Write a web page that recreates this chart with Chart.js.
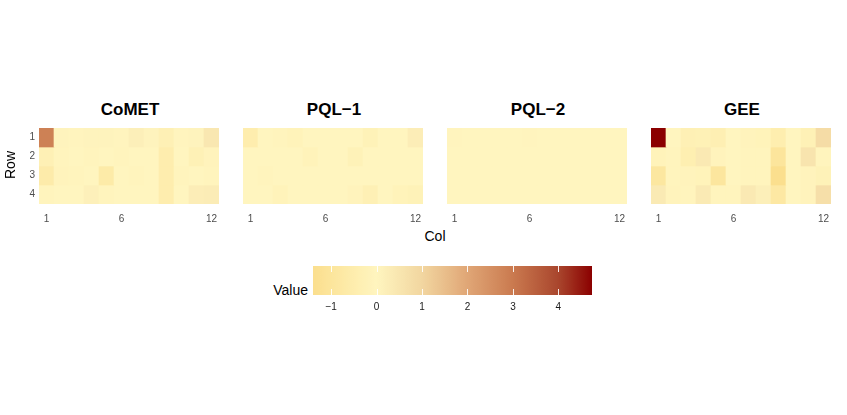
<!DOCTYPE html>
<html>
<head>
<meta charset="utf-8">
<script src="https://cdn.jsdelivr.net/npm/chart.js@4.4.1/dist/chart.umd.min.js"></script>
<style>
  body { margin: 0; background: #fff; }
  #wrap { position: relative; width: 847px; height: 415px; background: #fff; overflow: hidden;
          font-family: "Liberation Sans Narrow", "Liberation Sans", Arial, sans-serif; }
  canvas { position: absolute; }
  .lbl { position: absolute; white-space: nowrap; color: #000; }
  .title { font-size: 17px; font-weight: bold; width: 160px; text-align: center; line-height: 20px; }
</style>
</head>
<body>
<div id="wrap">
  <canvas id="p0" width="219" height="100" style="left:0px;top:128px"></canvas>
  <canvas id="p1" width="180" height="100" style="left:243px;top:128px"></canvas>
  <canvas id="p2" width="180" height="100" style="left:447px;top:128px"></canvas>
  <canvas id="p3" width="180" height="100" style="left:651px;top:128px"></canvas>
  <canvas id="bar" width="279" height="50" style="left:313px;top:266px"></canvas>

  <div class="lbl title" style="left:50px;top:100px">CoMET</div>
  <div class="lbl title" style="left:254px;top:100px">PQL−1</div>
  <div class="lbl title" style="left:458px;top:100px">PQL−2</div>
  <div class="lbl title" style="left:662px;top:100px">GEE</div>
  <div class="lbl" style="left:10px;top:165px;font-size:14px;transform:translate(-50%,-50%) rotate(-90deg)">Row</div>
  <div class="lbl" style="left:435px;top:236px;font-size:14px;transform:translate(-50%,-50%)">Col</div>
  <div class="lbl" style="left:308px;top:290px;font-size:14px;transform:translate(-100%,-50%)">Value</div>
</div>
<script>
const cols = ['1','2','3','4','5','6','7','8','9','10','11','12'];
const rows = [1, 2, 3, 4];
const colTicks = ['1', '6', '12'];
const legendTicks = [-1, 0, 1, 2, 3, 4];

// rows 1..4, columns 1..12
const comet = [
  [2.85, 0.05, 0.02, 0.05, 0.05, 0.03, 0.2, 0.05, -0.3, 0.03, 0.05, 0.45],
  [-0.3, -0.05, 0.0, -0.05, 0.0, -0.05, 0.0, 0.0, -0.5, 0.0, -0.25, -0.1],
  [-0.6, -0.1, -0.05, 0.0, -0.65, 0.0, -0.05, 0.0, -0.5, -0.05, 0.0, -0.05],
  [-0.05, 0.0, 0.0, 0.15, -0.05, 0.0, 0.0, 0.0, -0.5, 0.0, 0.25, 0.3]
];
const pql1 = [
  [-0.5, 0.0, -0.05, -0.15, 0.0, 0.0, 0.0, 0.0, -0.2, 0.0, 0.0, 0.25],
  [0.0, 0.0, 0.0, 0.0, -0.15, 0.0, 0.0, -0.2, 0.0, 0.0, 0.0, 0.0],
  [0.0, -0.05, 0.0, 0.0, 0.0, 0.0, 0.0, 0.0, 0.0, 0.0, 0.0, 0.0],
  [0.0, 0.0, -0.15, 0.0, 0.0, 0.0, 0.0, -0.1, -0.3, 0.0, -0.15, -0.2]
];
const pql2 = [
  [0.02, 0.01, 0.0, 0.01, 0.0, 0.02, 0.01, 0.0, 0.01, 0.0, 0.01, 0.0],
  [0.0, 0.01, 0.0, 0.0, 0.01, 0.0, 0.0, 0.01, 0.0, 0.01, 0.0, 0.0],
  [0.01, 0.0, 0.01, 0.0, 0.0, 0.01, 0.0, 0.0, 0.01, 0.0, 0.0, 0.01],
  [0.0, 0.0, 0.0, 0.01, 0.0, 0.0, 0.01, 0.0, 0.0, 0.0, 0.01, 0.0]
];
const gee = [
  [4.74, 0.0, -0.3, -0.25, -0.35, 0.0, -0.1, -0.15, -0.45, 0.0, -0.25, 0.8],
  [-0.15, -0.05, -0.4, 0.4, -0.1, 0.0, -0.05, -0.05, -1.0, 0.0, 0.55, -0.05],
  [-0.9, -0.05, -0.1, -0.15, -0.95, 0.0, -0.05, -0.05, -1.40, 0.0, -0.1, -0.2],
  [0.35, -0.1, -0.05, 0.35, -0.05, -0.05, 0.4, 0.2, -0.8, 0.0, -0.1, 0.7]
];

const panels = [comet, pql1, pql2, gee];

// colour ramp, value -> colour
const rampStops = [
  [-1.40, [251, 223, 142]],
  [-1.0,  [252, 229, 156]],
  [0.0,   [255, 245, 191]],
  [1.0,   [242, 214, 160]],
  [2.0,   [224, 166, 118]],
  [3.0,   [202, 122, 79]],
  [4.0,   [169, 70, 45]],
  [4.74,  [139, 0, 0]]
];

function colorFor(v) {
  if (v <= rampStops[0][0]) return rgb(rampStops[0][1]);
  for (let i = 1; i < rampStops.length; i++) {
    const a = rampStops[i - 1], b = rampStops[i];
    if (v <= b[0]) {
      const t = (v - a[0]) / (b[0] - a[0]);
      return rgb(a[1].map((c, k) => c + (b[1][k] - c) * t));
    }
  }
  return rgb(rampStops[rampStops.length - 1][1]);
}
function rgb(c) {
  return 'rgb(' + c.map(x => Math.round(x)).join(',') + ')';
}

const allValues = panels.flat(2);
const vMin = Math.min(...allValues);
const vMax = Math.max(...allValues);

Chart.defaults.font.family = '"Liberation Sans Narrow", "Liberation Sans", Arial, sans-serif';
Chart.defaults.animation = false;

// keep the plot area flush with the canvas edges
function noPad(s) {
  s.paddingLeft = 0; s.paddingRight = 0; s.paddingTop = 0; s.paddingBottom = 0;
}

function makePanel(id, values, showRows) {
  const datasets = rows.map((r, i) => ({
    data: cols.map(() => [r - 0.5, r + 0.5]),
    backgroundColor: values[i].map(colorFor),
    borderWidth: 0,
    barPercentage: 1,
    categoryPercentage: 1,
    grouped: false
  }));
  new Chart(document.getElementById(id), {
    type: 'bar',
    data: { labels: cols, datasets: datasets },
    options: {
      responsive: false,
      devicePixelRatio: 1,
      layout: { padding: 0 },
      plugins: { legend: { display: false }, tooltip: { enabled: false } },
      scales: {
        x: {
          type: 'category',
          grid: { display: false, drawTicks: false },
          border: { display: false },
          ticks: {
            autoSkip: false,
            maxRotation: 0,
            padding: 9,
            color: '#4d4d4d',
            font: { size: 10 },
            callback: function (val, idx) {
              const l = cols[idx];
              return colTicks.includes(l) ? l : '';
            }
          },
          afterFit: function (s) { s.height = 24; noPad(s); }
        },
        y: {
          type: 'linear',
          display: showRows,
          min: 0.5,
          max: 4.5,
          reverse: true,
          grid: { display: false, drawTicks: false },
          border: { display: false },
          ticks: { color: '#4d4d4d', font: { size: 10 }, padding: 4 },
          afterBuildTicks: function (s) { s.ticks = rows.map(v => ({ value: v })); },
          afterFit: function (s) { s.width = showRows ? 39 : 0; noPad(s); }
        }
      }
    }
  });
}

panels.forEach((p, i) => makePanel('p' + i, p, i === 0));

// colour bar legend
const whiteTicks = {
  id: 'whiteTicks',
  afterDatasetsDraw: function (chart) {
    const ctx = chart.ctx, area = chart.chartArea, x = chart.scales.x;
    ctx.save();
    ctx.strokeStyle = 'rgba(255,255,255,0.9)';
    ctx.lineWidth = 1;
    legendTicks.forEach(v => {
      const px = Math.round(x.getPixelForValue(v)) + 0.5;
      ctx.beginPath();
      ctx.moveTo(px, area.top); ctx.lineTo(px, area.top + 6);
      ctx.moveTo(px, area.bottom - 6); ctx.lineTo(px, area.bottom);
      ctx.stroke();
    });
    ctx.restore();
  }
};

new Chart(document.getElementById('bar'), {
  type: 'bar',
  data: {
    labels: ['Value'],
    datasets: [{
      data: [[vMin, vMax]],
      borderWidth: 0,
      barPercentage: 1,
      categoryPercentage: 1,
      backgroundColor: function (c) {
        const chart = c.chart, area = chart.chartArea;
        if (!area) return null;
        const g = chart.ctx.createLinearGradient(area.left, 0, area.right, 0);
        const n = 80;
        for (let i = 0; i <= n; i++) {
          const v = vMin + (vMax - vMin) * i / n;
          g.addColorStop(i / n, colorFor(v));
        }
        return g;
      }
    }]
  },
  options: {
    indexAxis: 'y',
    responsive: false,
    devicePixelRatio: 1,
    layout: { padding: 0 },
    plugins: { legend: { display: false }, tooltip: { enabled: false } },
    scales: {
      x: {
        type: 'linear',
        min: vMin,
        max: vMax,
        grid: { display: false, drawTicks: false },
        border: { display: false },
        ticks: {
          padding: 6,
          color: '#1a1a1a',
          font: { size: 10 },
          callback: v => (v < 0 ? '\u2212' + Math.abs(v) : String(v))
        },
        afterBuildTicks: function (s) { s.ticks = legendTicks.map(v => ({ value: v })); },
        afterFit: function (s) { s.height = 21; noPad(s); }
      },
      y: { display: false }
    }
  },
  plugins: [whiteTicks]
});
</script>
</body>
</html>
